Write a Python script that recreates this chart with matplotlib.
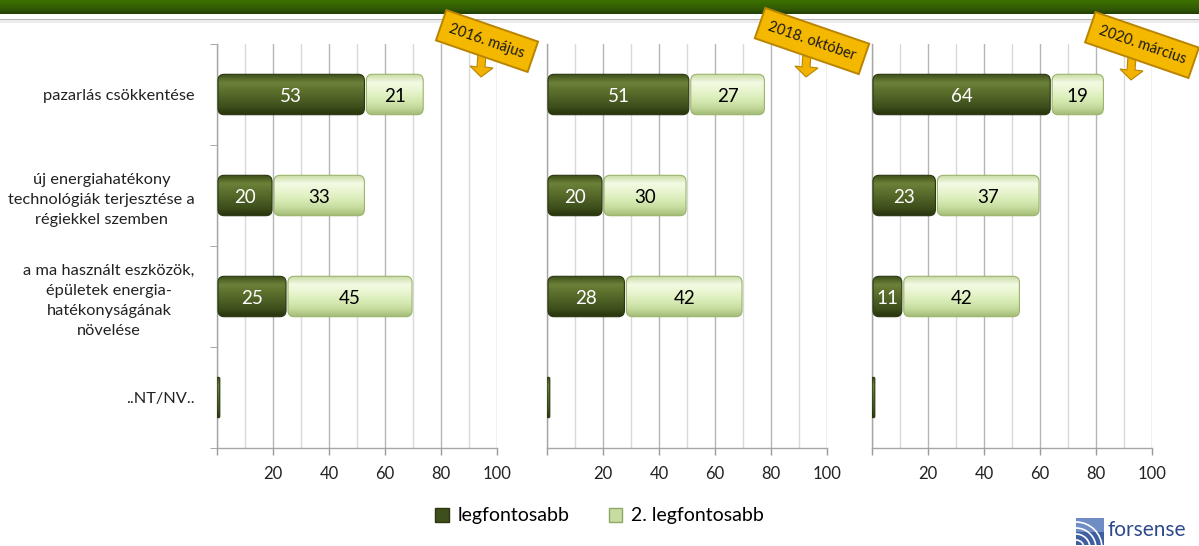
import numpy as np
import matplotlib
matplotlib.use("Agg")
import matplotlib.pyplot as plt
from matplotlib.patches import FancyBboxPatch, Patch, Polygon, Rectangle, Arc
from matplotlib.colors import LinearSegmentedColormap

plt.rcParams['font.family'] = ['Lato', 'DejaVu Sans']

# ---------------- data ----------------
categories = [
    "pazarlás csökkentése",
    "új energiahatékony\ntechnológiák terjesztése a\nrégiekkel szemben",
    "a ma használt eszközök,\népületek energia-\nhatékonyságának\nnövelése",
    "..NT/NV..",
]
periods = ["2016. május", "2018. október", "2020. március"]
series_names = ["legfontosabb", "2. legfontosabb"]

first_2016 = [53, 20, 25, 1]
second_2016 = [21, 33, 45, 0]
first_2018 = [51, 20, 28, 1]
second_2018 = [27, 30, 42, 0]
first_2020 = [64, 23, 11, 1]
second_2020 = [19, 37, 42, 0]

x_ticks = [0, 20, 40, 60, 80, 100]
x_ticklabels = ["", "20", "40", "60", "80", "100"]

# ---------------- style ----------------
W, H = 1199, 546
fig = plt.figure(figsize=(W / 100, H / 100), dpi=100)
fig.patch.set_facecolor("white")

dark_cmap = LinearSegmentedColormap.from_list(
    "dark", ["#3d4f1a", "#6b8038", "#5d712e", "#4d6025", "#3e4f1b", "#27330d"])
light_cmap = LinearSegmentedColormap.from_list(
    "light", ["#c9dca4", "#f3fae4", "#e8f5cf", "#d9ecb8", "#c6dc9e", "#a2bb76"])
dark_edge = "#2a360f"
light_edge = "#9ab46c"


def fx(px):
    return px / W


def fy(py):
    return 1 - py / H


# top banner
banner = fig.add_axes([0, fy(14), 1, 14 / H])
banner.imshow(np.linspace(0, 1, 20).reshape(-1, 1), aspect="auto",
              cmap=LinearSegmentedColormap.from_list("b", ["#3c7000", "#376600", "#2f5806", "#233f08"]),
              extent=(0, 1, 0, 1))
banner.set_axis_off()
fig.add_artist(Rectangle((0, fy(20)), 1, 1.5 / H, transform=fig.transFigure,
                         color="#b5b5b5", lw=0))
fig.add_artist(Rectangle((0, fy(23)), 1, 3 / H, transform=fig.transFigure,
                         color="#ececec", lw=0))

panel_lefts = [217, 547, 872]
panel_width = 280
plot_top, plot_bottom = 44, 448

firsts = [first_2016, first_2018, first_2020]
seconds = [second_2016, second_2018, second_2020]

callout_centers = [(487, 41), (812, 41), (1142, 45)]
arrow_pos = [(481, 77), (806, 77), (1131, 80)]

n = len(categories)
bar_h = 0.4

for i, (left_px, first, second, period) in enumerate(zip(panel_lefts, firsts, seconds, periods)):
    ax = fig.add_axes([fx(left_px), fy(plot_bottom), panel_width / W, (plot_bottom - plot_top) / H])
    y = np.arange(n)
    b1 = ax.barh(y, first, height=bar_h, color="none", edgecolor="none")
    b2 = ax.barh(y, second, left=first, height=bar_h, color="none", edgecolor="none")

    ax.set_xlim(0, 100)
    ax.set_ylim(n - 0.5, -0.5)

    px_per_x = panel_width / 100.0
    px_per_y = (plot_bottom - plot_top) / n
    aspect = px_per_x / px_per_y

    for bars, vals, cmap, edge, tcol in ((b1, first, dark_cmap, dark_edge, "white"),
                                         (b2, second, light_cmap, light_edge, "black")):
        for rect, val in zip(bars, vals):
            w = rect.get_width()
            if w <= 0:
                continue
            x0 = rect.get_x()
            y0 = rect.get_y()
            h = rect.get_height()
            shrink = 0.35 if w > 3 else 0.0
            xa = x0 + shrink
            wa = w - 2 * shrink
            r = min(2.2, wa / 2)
            patch = FancyBboxPatch((xa, y0), wa, h,
                                   boxstyle=f"round,pad=0,rounding_size={r}",
                                   mutation_aspect=aspect,
                                   facecolor="none", edgecolor=edge, lw=0.8, zorder=4)
            ax.add_patch(patch)
            grad = np.linspace(0, 1, 64).reshape(-1, 1)
            im = ax.imshow(grad, cmap=cmap, aspect="auto",
                           extent=(xa, xa + wa, y0 + h, y0), zorder=3,
                           interpolation="bilinear")
            im.set_clip_path(patch)
            if val >= 5:
                ax.text(xa + wa / 2, y0 + h / 2 + 0.02, f"{val}", ha="center", va="center",
                        fontsize=13.5, color=tcol, zorder=5)

    ax.set_xlim(0, 100)
    ax.set_ylim(n - 0.5, -0.5)

    ax.set_xticks(x_ticks)
    ax.set_xticklabels(x_ticklabels, fontsize=12, color="#222222")
    ax.set_xticks(np.arange(10, 100, 20), minor=True)
    ax.tick_params(axis="x", which="major", length=5, width=1, color="#999999",
                   direction="out", pad=8)
    ax.tick_params(axis="x", which="minor", length=0)
    ax.grid(axis="x", which="major", color="#b5b5b5", lw=1, zorder=0)
    ax.grid(axis="x", which="minor", color="#d9d9d9", lw=1, zorder=0)
    ax.set_axisbelow(True)

    if i == 0:
        ax.set_yticks(y)
        ax.set_yticklabels(categories, fontsize=11.8, color="#222222",
                           multialignment="center", linespacing=1.55)
        ax.set_yticks(np.arange(-0.5, n, 1.0), minor=True)
        ax.tick_params(axis="y", which="major", length=0, pad=16)
        ax.tick_params(axis="y", which="minor", length=5, color="#999999", direction="out")
    else:
        ax.set_yticks([])

    for s in ("top", "right"):
        ax.spines[s].set_visible(False)
    for s in ("left", "bottom"):
        ax.spines[s].set_color("#a6a6a6")
        ax.spines[s].set_linewidth(1)

    # callout arrow
    ax_px, ay_px = arrow_pos[i]
    arrow = Polygon([
        (fx(ax_px - 3), fy(ay_px - 24)), (fx(ax_px + 5), fy(ay_px - 22)),
        (fx(ax_px + 4), fy(ay_px - 10)), (fx(ax_px + 12), fy(ay_px - 9)),
        (fx(ax_px), fy(ay_px)), (fx(ax_px - 11), fy(ay_px - 11)),
        (fx(ax_px - 4), fy(ay_px - 10))],
        closed=True, transform=fig.transFigure, facecolor="#f2b200",
        edgecolor="#b98500", lw=0.8, zorder=10)
    fig.add_artist(arrow)
    cx, cy = callout_centers[i]
    fig.text(fx(cx), fy(cy), period, rotation=-19, rotation_mode="anchor",
             ha="center", va="center", fontsize=10.5, color="#1a1a1a", zorder=11,
             bbox=dict(boxstyle="square,pad=0.62", facecolor="#f5b800",
                       edgecolor="#b98500", lw=1.4))

# legend
handles = [Patch(facecolor="#3d4f1a", edgecolor="#2a360f"),
           Patch(facecolor="#c7dca0", edgecolor="#8fa865")]
fig.legend(handles, series_names, loc="center", bbox_to_anchor=(0.5, fy(516)),
           ncol=2, frameon=False, fontsize=14, handlelength=0.7, handleheight=0.7,
           handletextpad=0.45, columnspacing=2.0)

# logo
fig.add_artist(Rectangle((fx(1076), fy(545)), 28 / W, 27 / H, transform=fig.transFigure,
                         facecolor="#3f5fa0", edgecolor="none"))
fig.add_artist(Rectangle((fx(1076), fy(532)), 28 / W, 14 / H, transform=fig.transFigure,
                         facecolor="#6f8cc4", edgecolor="none"))
for k, rr in enumerate([8, 14, 20, 26]):
    fig.add_artist(Arc((fx(1076), fy(548)), 2 * rr / W, 2 * rr / H, theta1=0, theta2=90,
                       transform=fig.transFigure, color="white", lw=1.2))
fig.text(fx(1108), fy(530), "forsense", fontsize=15, color="#2e4a8c", ha="left", va="center")

fig.savefig("out.png", dpi=100)
